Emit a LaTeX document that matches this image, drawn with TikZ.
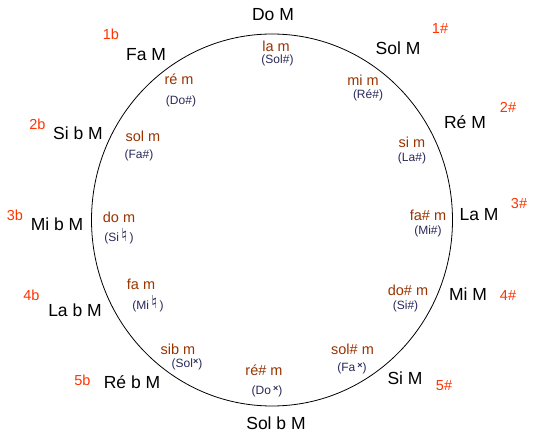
\documentclass[tikz,border=0pt]{standalone}
\usepackage{fontspec}
\setmainfont{Liberation Sans}
\newfontfamily\musicfont{DejaVu Sans}
\definecolor{minbrown}{RGB}{153,51,0}
\definecolor{enhblue}{RGB}{40,40,90}
\definecolor{sigred}{RGB}{255,51,0}
\newcommand{\natsign}{\raisebox{0.5pt}{\musicfont\bfseries\fontsize{18}{18}\selectfont ♮}}
\newcommand{\dblsharp}{\raisebox{3pt}{\bfseries\fontsize{9}{9}\selectfont ×}}
\tikzset{
  majkey/.style={anchor=base, inner sep=0pt, font=\fontsize{17.5}{20}\selectfont},
  minkey/.style={anchor=base, inner sep=0pt, text=minbrown, font=\fontsize{14.5}{16}\selectfont},
  enhkey/.style={anchor=base, inner sep=0pt, text=enhblue, font=\fontsize{12}{14}\selectfont},
  sigkey/.style={anchor=base, inner sep=0pt, text=sigred, font=\fontsize{14.5}{16}\selectfont}
}
\begin{document}
\begin{tikzpicture}[x=1pt,y=1pt,yscale=-1]
\useasboundingbox (0,0) rectangle (535,438);

%Shape: Circle
\draw [line width=0.8pt] (272,220) ellipse (180.5pt and 186pt);

% Major keys
\node (doM)   [majkey] at (273,21)  {Do M};
\node (solM)  [majkey] at (398,55)  {Sol M};
\node (reM)   [majkey] at (465,129) {Ré M};
\node (laM)   [majkey] at (479,221) {La M};
\node (miM)   [majkey] at (468,300) {Mi M};
\node (siM)   [majkey] at (405,384) {Si M};
\node (solbM) [majkey] at (276,429) {Sol b M};
\node (rebM)  [majkey] at (132,388) {Ré b M};
\node (labM)  [majkey] at (75,316)  {La b M};
\node (mibM)  [majkey] at (57,231)  {Mi b M};
\node (sibM)  [majkey] at (78,140)  {Si b M};
\node (faM)   [majkey] at (146,61)  {Fa M};

% Key signatures
\node (sharpA) [sigkey] at (440,34)  {1\#};
\node (sharpB) [sigkey] at (508,113) {2\#};
\node (sharpC) [sigkey] at (519,209) {3\#};
\node (sharpD) [sigkey] at (508,300) {4\#};
\node (sharpE) [sigkey] at (444,390) {5\#};
\node (flatA)  [sigkey] at (111,40)  {1b};
\node (flatB)  [sigkey] at (37.5,130) {2b};
\node (flatC)  [sigkey] at (15,221)  {3b};
\node (flatD)  [sigkey] at (31.5,300) {4b};
\node (flatE)  [sigkey] at (82.5,385) {5b};

% Minor keys
\node (lam)   [minkey] at (276,52)  {la m};
\node (mim)   [minkey] at (363,86)  {mi m};
\node (sim)   [minkey] at (412,148) {si m};
\node (fasm)  [minkey] at (428,221) {fa\# m};
\node (dosm)  [minkey] at (408,295) {do\# m};
\node (solsm) [minkey] at (352.5,354) {sol\# m};
\node (resm)  [minkey] at (264,375) {ré\# m};
\node (sibm)  [minkey] at (178,354) {sib m};
\node (fam)   [minkey] at (141,289) {fa m};
\node (dom)   [minkey] at (119,223) {do m};
\node (solm)  [minkey] at (143,142) {sol m};
\node (rem)   [minkey] at (179,85)  {ré m};

% Leading tones
\node (lamlt)   [enhkey] at (277.5,64) {(Sol\#)};
\node (mimlt)   [enhkey] at (368,99)  {(Ré\#)};
\node (simlt)   [enhkey] at (412,162) {(La\#)};
\node (fasmlt)  [enhkey] at (428,235) {(Mi\#)};
\node (dosmlt)  [enhkey] at (405.5,309) {(Si\#)};
\node (solsmlt) [enhkey] at (352,371) {(Fa\,\dblsharp)};
\node (resmlt)  [enhkey] at (267,394) {(Do\,\dblsharp)};
\node (sibmlt)  [enhkey] at (187,367) {(Sol\dblsharp)};
\node (famlt)   [enhkey] at (148,309) {(Mi\,\natsign\,)};
\node (domlt)   [enhkey] at (119,242) {(Si\,\natsign\,)};
\node (solmlt)  [enhkey] at (139,159) {(Fa\#)};
\node (remlt)   [enhkey] at (181,105) {(Do\#)};

\end{tikzpicture}
\end{document}
